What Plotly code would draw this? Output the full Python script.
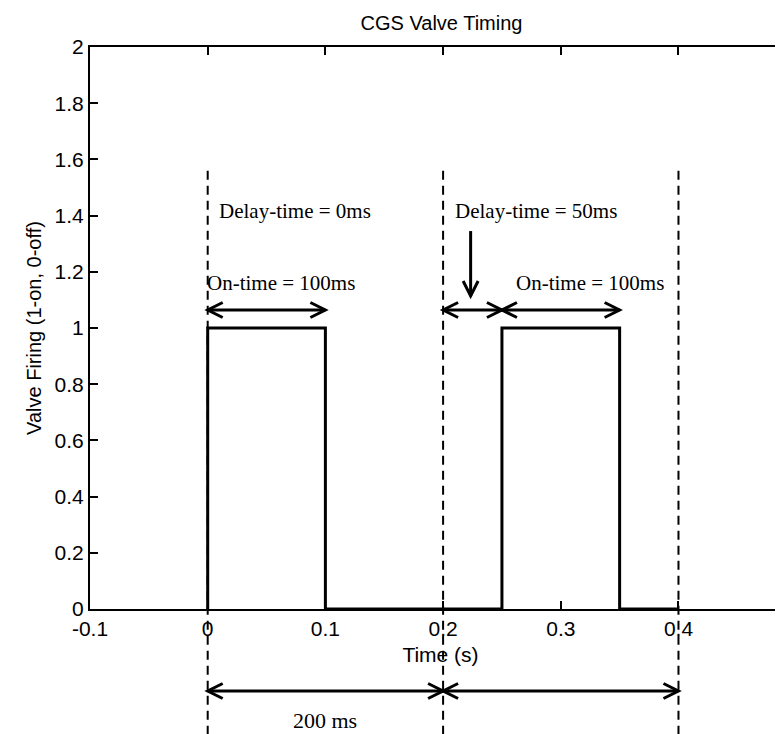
import plotly.graph_objects as go

# ---- data ----
time_s = [0, 0, 0.1, 0.1, 0.25, 0.25, 0.35, 0.35, 0.4]
firing = [0, 1, 1, 0, 0, 1, 1, 0, 0]

cycle_marks = [0, 0.2, 0.4]          # dashed cycle boundaries (s)
dash_top = 1.56                      # dashed lines start (data y)

x_ticks = [-0.1, 0, 0.1, 0.2, 0.3, 0.4]
y_ticks = [0, 0.2, 0.4, 0.6, 0.8, 1, 1.2, 1.4, 1.6, 1.8, 2]

# in-plot double arrows: (x_start, x_end, y)
inplot_arrows = [(0, 0.1, 1.064), (0.2, 0.25, 1.064), (0.25, 0.35, 1.064)]
# pointer arrow: (x, y_from, y_to)
pointer = (0.2234, 1.345, 1.114)
# labels inside plot: (text, x, y)
inplot_labels = [
    ("Delay-time = 0ms", 0.0102, 1.416),
    ("On-time = 100ms", 0.0, 1.16),
    ("Delay-time = 50ms", 0.2107, 1.416),
    ("On-time = 100ms", 0.263, 1.16),
]
# arrows below the plot: (x_start, x_end)
below_arrows = [(0, 0.2), (0.2, 0.4)]
below_label = ("200 ms", 0.1)

# ---- layout constants ----
W, H = 783, 734
L, R, T, B = 82, 0, 39, 133
plot_h = H - T - B
ymin, ymax = 0, 2
xmin, xmax = -0.1, 0.4956

def paper_y(v):
    return (v - ymin) / (ymax - ymin)

def px_below(p):
    # pixels below the x axis -> paper coordinate
    return -p / plot_h

fig = go.Figure()
fig.add_trace(go.Scatter(x=time_s, y=firing, mode="lines",
                         line=dict(color="black", width=3),
                         showlegend=False, hoverinfo="skip"))

shapes = []
for xm in cycle_marks:
    shapes.append(dict(type="line", xref="x", yref="paper",
                       x0=xm, x1=xm, y0=paper_y(dash_top), y1=-B / plot_h,
                       line=dict(color="black", width=2, dash="9px,6px")))

def chevron(x, y, yref, direction):
    if direction == "left":
        path = "M 15,7.5 L 0,0 L 15,-7.5"
    elif direction == "right":
        path = "M -15,7.5 L 0,0 L -15,-7.5"
    else:  # down
        path = "M -7.5,15 L 0,0 L 7.5,15"
    return dict(type="path", xref="x", yref=yref, xsizemode="pixel",
                ysizemode="pixel", xanchor=x, yanchor=y, path=path,
                line=dict(color="black", width=3))

def double_arrow(x0, x1, y, yref):
    out = [dict(type="line", xref="x", yref=yref, x0=x0, x1=x1, y0=y, y1=y,
                line=dict(color="black", width=3))]
    out.append(chevron(x0, y, yref, "left"))
    out.append(chevron(x1, y, yref, "right"))
    return out

for a in inplot_arrows:
    shapes += double_arrow(a[0], a[1], a[2], "y")

px, py0, py1 = pointer
shapes.append(dict(type="line", xref="x", yref="y", x0=px, x1=px, y0=py0, y1=py1,
                   line=dict(color="black", width=3)))
shapes.append(chevron(px, py1, "y", "down"))

arrow_y_below = px_below(82)
for a in below_arrows:
    shapes += double_arrow(a[0], a[1], arrow_y_below, "paper")

serif = dict(family="Times New Roman, Liberation Serif, serif", size=21, color="black")
annotations = []
for txt, x, y in inplot_labels:
    annotations.append(dict(text=txt, x=x, y=y, xref="x", yref="y",
                            xanchor="left", yanchor="middle", showarrow=False,
                            xshift=-3, font=serif))
annotations.append(dict(text=below_label[0], x=below_label[1], y=px_below(111),
                        xref="x", yref="paper", xanchor="center", yanchor="middle",
                        showarrow=False, borderpad=0, font=dict(serif, size=22)))

sans = "Arial, Liberation Sans, Helvetica, sans-serif"
fig.update_layout(
    width=W, height=H,
    margin=dict(l=L, r=R, t=T, b=B),
    paper_bgcolor="white", plot_bgcolor="white",
    title=dict(text="CGS Valve Timing", x=(L + 0.5 * (785 - L)) / W, xanchor="center",
               y=1 - 15 / H, yanchor="middle",
               font=dict(family=sans, size=20, color="black")),
    shapes=shapes, annotations=annotations,
    xaxis=dict(range=[xmin, xmax], tickvals=x_ticks, ticktext=[f"{v:g}" for v in x_ticks],
               ticks="inside", ticklen=8, tickwidth=2, tickcolor="black",
               showline=True, linecolor="black", linewidth=2, mirror="ticks",
               showgrid=False, zeroline=False,
               tickfont=dict(family=sans, size=21, color="black"),
               title=dict(text="Time (s)", standoff=8,
                          font=dict(family=sans, size=21, color="black"))),
    yaxis=dict(range=[ymin, ymax], tickvals=y_ticks, ticktext=[f"{v:g}" for v in y_ticks],
               ticks="inside", ticklen=8, tickwidth=2, tickcolor="black",
               showline=True, linecolor="black", linewidth=2, mirror=False,
               showgrid=False, zeroline=False,
               tickfont=dict(family=sans, size=21, color="black"),
               title=dict(text="Valve Firing (1-on, 0-off)", standoff=8,
                          font=dict(family=sans, size=20, color="black"))),
)

fig.write_html("out.html")
